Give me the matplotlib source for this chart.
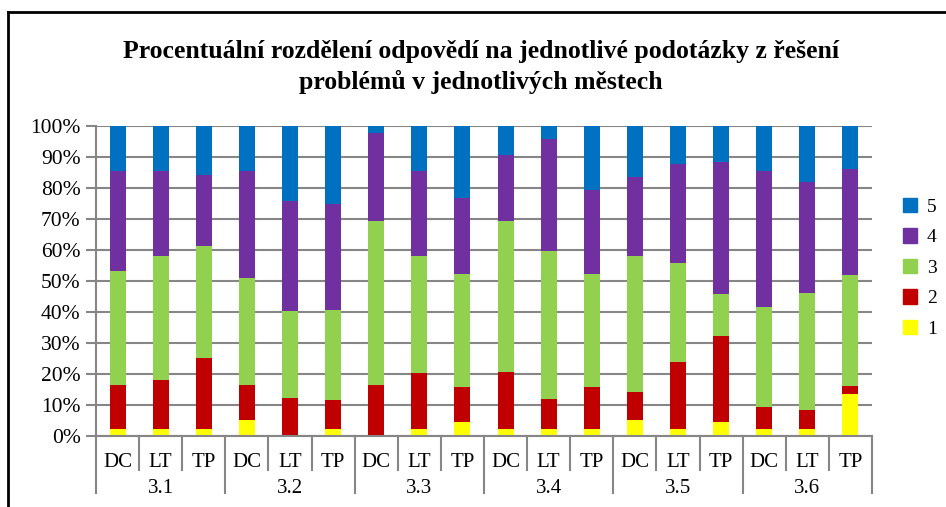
import numpy as np
import matplotlib.pyplot as plt
from matplotlib.lines import Line2D
from matplotlib.patches import Patch
from matplotlib.ticker import FuncFormatter
from matplotlib.transforms import blended_transform_factory

plt.rcParams['font.family'] = ['Liberation Serif', 'DejaVu Serif']

# skupiny podotázek a města
groups = ['3.1', '3.2', '3.3', '3.4', '3.5', '3.6']
cities = ['DC', 'LT', 'TP']

# podíl odpovědí (%) pro sloupce 3.1 DC, 3.1 LT, 3.1 TP, ..., 3.6 TP
odp1 = [2.3, 2.3, 2.3, 5.0, 0.0, 2.3, 0.0, 2.3, 4.5, 2.3, 2.3, 2.3, 5.0, 2.3, 4.5, 2.3, 2.3, 13.6]
odp2 = [14.1, 15.7, 22.7, 11.4, 12.1, 9.2, 16.4, 18.0, 11.3, 18.4, 9.6, 13.5, 9.2, 21.6, 27.6, 7.0, 5.9, 2.3]
odp3 = [36.8, 40.0, 36.4, 34.6, 28.2, 29.2, 53.0, 37.7, 36.3, 48.7, 47.8, 36.3, 43.8, 32.0, 13.5, 32.4, 37.9, 36.1]
odp4 = [32.4, 27.6, 22.8, 34.6, 35.6, 34.1, 28.2, 27.6, 24.8, 21.1, 36.2, 27.1, 25.6, 31.8, 42.7, 43.9, 35.7, 34.2]
odp5 = [14.4, 14.4, 15.8, 14.4, 24.1, 25.2, 2.4, 14.4, 23.1, 9.5, 4.1, 20.8, 16.4, 12.3, 11.7, 14.4, 18.2, 13.8]

series = [odp1, odp2, odp3, odp4, odp5]
labels = ['1', '2', '3', '4', '5']
colors = ['#FFFF00', '#C00000', '#92D050', '#7030A0', '#0070C0']

data = np.array(series, dtype=float)
data = data / data.sum(axis=0) * 100

fig = plt.figure(figsize=(9.46, 5.07), dpi=100)
W, H = 946, 507
ax = fig.add_axes([96 / W, 1 - 435.7 / H, (872 - 96) / W, (435.7 - 126) / H])

x = np.arange(data.shape[1])
bottom = np.zeros(data.shape[1])
for vals, lab, col in zip(data, labels, colors):
    ax.bar(x, vals, width=0.37, bottom=bottom, color=col, label=lab, zorder=2)
    bottom += vals

grey = '#868686'
ax.set_xlim(-0.5, len(x) - 0.5)
ax.set_ylim(0, 100)
ax.set_yticks(np.arange(0, 101, 10))
ax.yaxis.set_major_formatter(FuncFormatter(lambda v, p: f'{v:.0f}%'))
ax.yaxis.grid(True, color=grey, lw=1.5, zorder=0)
ax.set_axisbelow(True)
ax.tick_params(axis='y', length=7, width=1.5, color=grey, labelsize=15.5, pad=4)
ax.set_xticks([])
for s in ['top', 'right']:
    ax.spines[s].set_visible(False)
for s in ['left', 'bottom']:
    ax.spines[s].set_color(grey)
    ax.spines[s].set_linewidth(1.5)

# víceúrovňová osa x
tr = blended_transform_factory(ax.transData, ax.transAxes)
for i in range(len(x) + 1):
    xb = i - 0.5
    low = -0.185 if i % 3 == 0 else -0.111
    ax.add_line(Line2D([xb, xb], [0, low], transform=tr, color=grey,
                       lw=1.5, clip_on=False))
for i in x:
    ax.text(i, -0.088, cities[i % 3], transform=tr, ha='center',
            va='center', fontsize=15)
for g, name in enumerate(groups):
    ax.text(g * 3 + 1, -0.169, name, transform=tr, ha='center',
            va='center', fontsize=15)

handles = [Patch(color=c, label=l) for c, l in zip(colors, labels)][::-1]
fig.legend(handles=handles, loc='upper left',
           bbox_to_anchor=(893 / W, 1 - 188 / H), frameon=False,
           fontsize=14, handlelength=0.75, handleheight=0.75,
           handletextpad=0.5, labelspacing=0.65, borderpad=0)

fig.text(481 / W, 1 - 67 / H,
         'Procentuální rozdělení odpovědí na jednotlivé podotázky z řešení\n'
         'problémů v jednotlivých městech',
         ha='center', va='center', fontsize=18.5, fontweight='bold',
         linespacing=1.35)

# rámeček grafu
fig.add_artist(Line2D([8 / W, 8 / W], [0, 1 - 12 / H], color='black', lw=2))
fig.add_artist(Line2D([8 / W, 1], [1 - 12 / H, 1 - 12 / H], color='black', lw=2))

fig.savefig('out.png', dpi=100)
